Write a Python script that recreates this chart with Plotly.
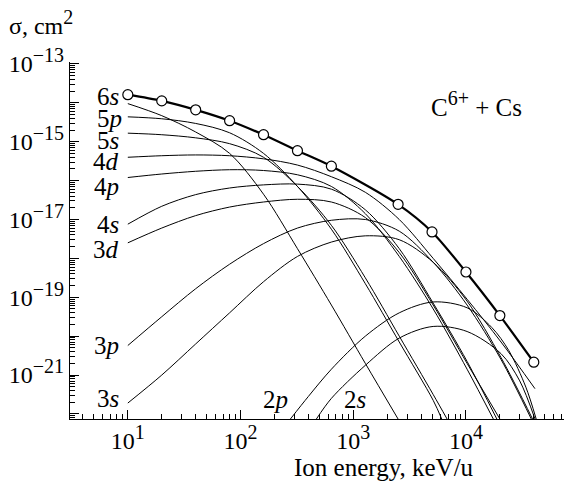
import plotly.graph_objects as go

# ---------------- data (energies in keV/u, cross sections as log10(sigma/cm^2)) -------------
tot_E = [10, 20, 40, 80, 160, 320, 640, 2500, 5000, 10000, 20000, 40000]
tot_L = [-13.79, -13.95, -14.18, -14.46, -14.82, -15.23, -15.63, -16.61, -17.32, -18.35, -19.47, -20.67]

E_6s = [10, 20, 40, 80, 160, 320, 640, 1280, 2500]
L_6s = [-14.02, -14.33, -14.75, -15.30, -16.35, -17.75, -19.20, -20.70, -22.13]

E_5p = [10, 20, 40, 80, 160, 320, 640, 1280, 2560, 5120, 6100]
L_5p = [-14.36, -14.41, -14.53, -14.77, -15.30, -16.15, -17.25, -18.65, -20.15, -21.65, -22.13]

E_5s = [10, 20, 40, 80, 160, 320, 640, 1280, 2560, 5120, 6800]
L_5s = [-14.78, -14.82, -14.90, -15.05, -15.40, -16.15, -17.15, -18.50, -20.00, -21.50, -22.13]

E_4d = [10, 20, 40, 80, 160, 320, 640, 1280, 2560, 5120, 10240, 20480, 40960]
L_4d = [-15.40, -15.36, -15.34, -15.36, -15.44, -15.60, -15.90, -16.30, -17.00, -18.00, -19.05, -20.15, -21.35]

E_4p = [10, 20, 40, 80, 160, 320, 640, 1280, 2560, 5120, 10240, 17500]
L_4p = [-15.92, -15.83, -15.76, -15.72, -15.74, -15.85, -16.15, -16.85, -17.95, -19.30, -20.85, -22.13]

E_4s = [10, 20, 40, 80, 160, 320, 640, 1280, 2560, 5120, 10240, 18800]
L_4s = [-17.12, -16.66, -16.36, -16.19, -16.11, -16.09, -16.22, -16.75, -17.75, -19.15, -20.65, -22.13]

E_3d = [10, 20, 40, 80, 160, 320, 640, 1280, 2560, 5120, 10240, 20000]
L_3d = [-17.60, -17.22, -16.90, -16.68, -16.55, -16.48, -16.55, -16.95, -17.85, -19.20, -20.70, -22.13]

E_3p = [10, 20, 40, 80, 160, 320, 640, 1280, 2560, 5120, 10240, 20480, 38000]
L_3p = [-20.24, -19.50, -18.78, -18.15, -17.62, -17.22, -17.02, -17.00, -17.30, -18.10, -19.20, -20.60, -22.13]

E_3s = [10, 20, 40, 80, 160, 320, 640, 1280, 2560, 5120, 10240, 20480, 39000]
L_3s = [-21.72, -21.00, -20.20, -19.40, -18.60, -17.95, -17.58, -17.42, -17.52, -18.10, -19.10, -20.55, -22.13]

E_2p = [277, 400, 640, 1280, 2560, 5120, 10240, 17000, 24000, 34000, 42000]
L_2p = [-22.13, -21.55, -20.85, -20.00, -19.40, -19.12, -19.27, -19.78, -20.37, -21.31, -22.13]

E_2s = [471, 640, 1280, 2560, 5120, 10240, 20480, 30000, 41000]
L_2s = [-22.13, -21.60, -20.75, -20.05, -19.75, -19.88, -20.45, -21.15, -22.13]

curve_names = ["6s", "5p", "5s", "4d", "4p", "4s", "3d", "3p", "3s", "2p", "2s"]
curve_E = [E_6s, E_5p, E_5s, E_4d, E_4p, E_4s, E_3d, E_3p, E_3s, E_2p, E_2s]
curve_L = [L_6s, L_5p, L_5s, L_4d, L_4p, L_4s, L_3d, L_3p, L_3s, L_2p, L_2s]

y_tick_exp = [-13, -14, -15, -16, -17, -18, -19, -20, -21, -22]
x_tick_exp = [1, 2, 3, 4]

# ---------------- label placement (log10 coordinates) ----------------
label_pos = {
    "6s": (0.94, -13.84), "5p": (0.965, -14.41), "5s": (0.94, -14.97),
    "4d": (0.94, -15.51), "4p": (0.94, -16.15), "4s": (0.94, -17.12),
    "3d": (0.94, -17.76), "3p": (0.94, -20.24), "3s": (0.94, -21.59),
    "2p": (2.31, -21.64), "2s": (3.02, -21.64),
}

FONT = "Liberation Serif"
SUP = "<sup><span style='font-size:20px'>%s</span></sup>"
fig = go.Figure()

for name, E, L in zip(curve_names, curve_E, curve_L):
    fig.add_trace(go.Scatter(
        x=E, y=[10 ** v for v in L], mode="lines",
        line=dict(color="black", width=1, shape="spline", smoothing=0.9),
        showlegend=False, hoverinfo="skip"))

fig.add_trace(go.Scatter(
    x=tot_E, y=[10 ** v for v in tot_L], mode="lines+markers",
    line=dict(color="black", width=2.2, shape="spline", smoothing=0.8),
    marker=dict(symbol="circle", size=10, color="white",
                line=dict(color="black", width=1.2)),
    showlegend=False, hoverinfo="skip"))

annotations = []
for name in curve_names:
    xx, yy = label_pos[name]
    txt = name[0] + "<i>" + name[1] + "</i>"
    anchor = "right" if name[0] != "2" else "center"
    annotations.append(dict(x=xx, y=yy, xref="x", yref="y", text=txt, showarrow=False,
                            xanchor=anchor, yanchor="middle",
                            font=dict(family=FONT, size=25, color="black")))

annotations.append(dict(x=4.097, y=-14.02, xref="x", yref="y",
                        text="C" + SUP % "6+" + " + Cs", showarrow=False,
                        xanchor="center", yanchor="middle",
                        font=dict(family=FONT, size=25, color="black")))
annotations.append(dict(x=-0.128, y=1.11, xref="paper", yref="paper",
                        text="σ, cm" + SUP % "2", showarrow=False,
                        xanchor="left", yanchor="middle",
                        font=dict(family=FONT, size=24, color="black")))
annotations.append(dict(x=0.636, y=-0.137, xref="paper", yref="paper",
                        text="Ion energy, keV/u", showarrow=False,
                        xanchor="center", yanchor="middle",
                        font=dict(family=FONT, size=25, color="black")))

minor_x = [m * 10 ** d for d in range(0, 5) for m in range(2, 10)]
minor_y = [m * 10.0 ** d for d in range(-23, -12) for m in range(2, 10)]

fig.update_layout(
    width=564, height=487,
    margin=dict(l=70, r=0, t=62, b=68),
    paper_bgcolor="white", plot_bgcolor="white",
    font=dict(family=FONT, size=24, color="black"),
    annotations=annotations,
    xaxis=dict(
        type="log", range=[0.487, 4.87],
        showline=True, linecolor="black", linewidth=1.3,
        showgrid=False, zeroline=False,
        ticks="inside", ticklen=9, tickwidth=1, tickcolor="black",
        tickvals=[10 ** e for e in x_tick_exp],
        ticktext=["10" + SUP % str(e) for e in x_tick_exp],
        tickfont=dict(family=FONT, size=24),
        minor=dict(ticks="inside", ticklen=5, tickwidth=1, tickcolor="black",
                   tickvals=minor_x, showgrid=False),
    ),
    yaxis=dict(
        type="log", range=[-22.13, -12.95],
        showline=True, linecolor="black", linewidth=1.3,
        showgrid=False, zeroline=False,
        ticks="inside", ticklen=9, tickwidth=1, tickcolor="black",
        tickvals=[10.0 ** e for e in y_tick_exp],
        ticktext=[("10" + SUP % ("\u2212%d" % -e)) if e % 2 else "" for e in y_tick_exp],
        tickfont=dict(family=FONT, size=24),
        minor=dict(ticks="inside", ticklen=5, tickwidth=1, tickcolor="black",
                   tickvals=minor_y, showgrid=False),
    ),
)

fig.write_html("out.html")
